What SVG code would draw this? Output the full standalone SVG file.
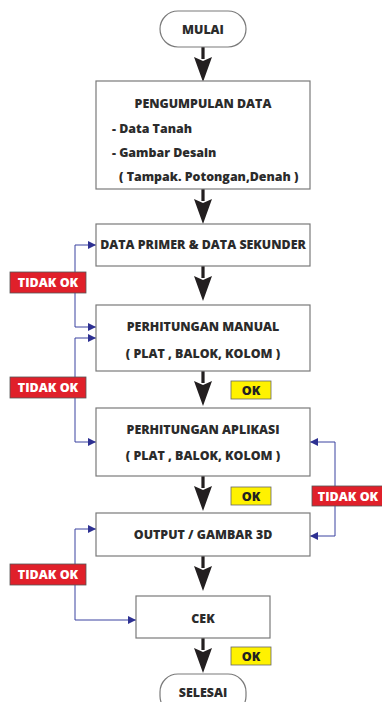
<svg xmlns="http://www.w3.org/2000/svg" width="382" height="702" viewBox="0 0 382 702">
<style>
.box{fill:#fff;stroke:#7a7a7a;stroke-width:1.2}
.t{font-family:"Open Sans","Liberation Sans",sans-serif;font-weight:800;font-size:12.4px;fill:#2b2b2b;text-anchor:middle}
.tl{text-anchor:start}
.blue{fill:none;stroke:#3b43a0;stroke-width:1}
.red{fill:#e0202a;stroke:#555;stroke-width:0.8}
.yel{fill:#fff200;stroke:#666;stroke-width:0.8}
.lw{font-family:"Open Sans","Liberation Sans",sans-serif;font-weight:800;font-size:12.5px;fill:#fff;text-anchor:middle}
.lk{font-family:"Open Sans","Liberation Sans",sans-serif;font-weight:800;font-size:12.5px;fill:#222;text-anchor:middle}
</style>
<defs>
<g id="bigArrow"><rect x="-1.6" y="0" width="3.2" height="12" fill="#231f20"/><path d="M-9,10 L0,14 L9,10 L0,35 Z" fill="#231f20"/></g>
<marker id="ba" markerWidth="8" markerHeight="8" refX="8" refY="4" orient="auto" markerUnits="userSpaceOnUse"><path d="M0,0 L8,4 L0,8 Z" fill="#2e3192"/></marker>
</defs>
<g id="connectors">
<use href="#bigArrow" x="203" y="47"/>
<use href="#bigArrow" x="203" y="189"/>
<use href="#bigArrow" x="203" y="266"/>
<use href="#bigArrow" x="203" y="371"/>
<use href="#bigArrow" x="203" y="476"/>
<use href="#bigArrow" x="203" y="556"/>
<use href="#bigArrow" x="203" y="638"/>
<path class="blue" d="M75,282 V245 H96" marker-end="url(#ba)"/>
<path class="blue" d="M75,282 V327 H96" marker-end="url(#ba)"/>
<path class="blue" d="M75,388 V338 H96" marker-end="url(#ba)"/>
<path class="blue" d="M75,388 V442 H96" marker-end="url(#ba)"/>
<path class="blue" d="M335,496 V442 H310" marker-end="url(#ba)"/>
<path class="blue" d="M335,496 V536 H310" marker-end="url(#ba)"/>
<path class="blue" d="M75,575 V529 H96" marker-end="url(#ba)"/>
<path class="blue" d="M75,575 V620 H136" marker-end="url(#ba)"/>
</g>
<g id="mulai"><rect x="160" y="11" width="86" height="36" rx="18" class="box"/><text x="203" y="33.5" class="t">MULAI</text></g>
<g id="pengumpulan"><rect x="96" y="81" width="214" height="108" class="box"/>
<text x="203" y="108" class="t">PENGUMPULAN DATA</text>
<text x="112" y="133" class="t tl">- Data Tanah</text>
<text x="112" y="157" class="t tl">- Gambar Desain</text>
<text x="119" y="181" class="t tl">( Tampak. Potongan,Denah )</text></g>
<g id="dataprimer"><rect x="96" y="224" width="214" height="42" class="box"/><text x="203" y="249" class="t">DATA PRIMER &amp; DATA SEKUNDER</text></g>
<g id="manual"><rect x="96" y="305" width="214" height="66" class="box"/><text x="203" y="331" class="t">PERHITUNGAN MANUAL</text><text x="203" y="358" class="t">( PLAT , BALOK, KOLOM )</text></g>
<g id="aplikasi"><rect x="96" y="408" width="214" height="68" class="box"/><text x="203" y="434" class="t">PERHITUNGAN APLIKASI</text><text x="203" y="460" class="t">( PLAT , BALOK, KOLOM )</text></g>
<g id="output"><rect x="96" y="513" width="214" height="43" class="box"/><text x="203" y="539" class="t">OUTPUT / GAMBAR 3D</text></g>
<g id="cek"><rect x="136" y="596" width="134" height="42" class="box"/><text x="203" y="623" class="t">CEK</text></g>
<g id="selesai"><rect x="160" y="674" width="86" height="40" rx="18" class="box"/><text x="203" y="697" class="t">SELESAI</text></g>
<g id="tidakok1"><rect x="10" y="272" width="76" height="21" class="red"/><text x="48" y="287" class="lw">TIDAK OK</text></g>
<g id="tidakok2"><rect x="10" y="377" width="76" height="21" class="red"/><text x="48" y="392" class="lw">TIDAK OK</text></g>
<g id="tidakok3"><rect x="312" y="486" width="76" height="20" class="red"/><text x="348" y="501" class="lw">TIDAK OK</text></g>
<g id="tidakok4"><rect x="10" y="564" width="76" height="21" class="red"/><text x="48" y="579" class="lw">TIDAK OK</text></g>
<g id="ok1"><rect x="231" y="381" width="40" height="18" class="yel"/><text x="251" y="395" class="lk">OK</text></g>
<g id="ok2"><rect x="231" y="487" width="40" height="18" class="yel"/><text x="251" y="501" class="lk">OK</text></g>
<g id="ok3"><rect x="231" y="647" width="40" height="18" class="yel"/><text x="251" y="661" class="lk">OK</text></g>
</svg>
